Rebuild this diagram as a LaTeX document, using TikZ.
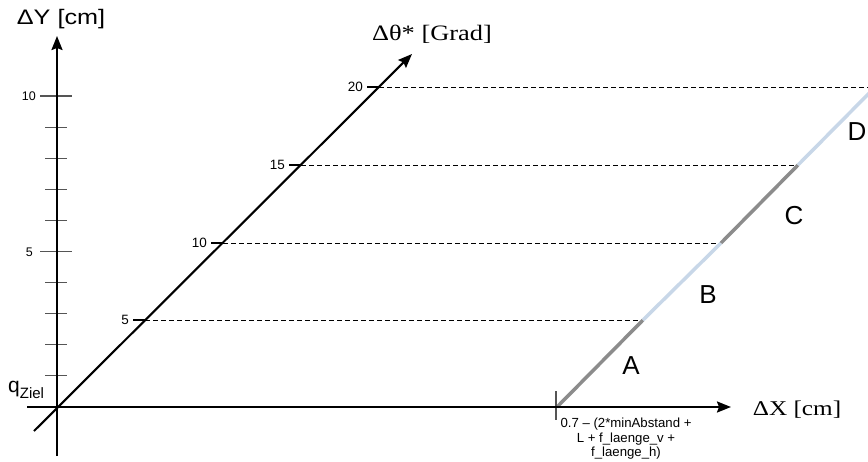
\documentclass[tikz,border=0pt]{standalone}
\usepackage{fontspec}
\setmainfont{Liberation Sans}
\newfontfamily\seriffont{Liberation Serif}
\usetikzlibrary{arrows.meta}
\definecolor{segdark}{HTML}{8C8C8C}
\definecolor{seglight}{HTML}{C8D7E8}
\definecolor{tickgray}{HTML}{555555}
\newcommand{\wide}[1]{\scalebox{1.2}[1]{#1}}
\begin{document}
\begin{tikzpicture}[x=1pt,y=-1pt,
  axis/.style={line width=2.1pt, -{Stealth[length=14pt,width=11pt,inset=2pt]}},
  ytick/.style={draw=tickgray, line width=1.1pt},
  dtick/.style={draw=black, line width=1.2pt},
  guide/.style={dash pattern=on 5pt off 3pt, line width=0.8pt},
  seg/.style={line width=3.5pt},
  ticklbl/.style={font=\fontsize{12.5}{12.5}\selectfont, inner sep=0pt},
  dticklbl/.style={font=\fontsize{13.5}{13.5}\selectfont, inner sep=0pt},
  seglbl/.style={font=\fontsize{26}{26}\selectfont, inner sep=0pt}]
\useasboundingbox (0,0) rectangle (868,461);
\clip (0,0) rectangle (868,461);

% key points
\coordinate (O) at (57,407);
\coordinate (ybot) at (57,456);
\coordinate (ytop) at (57,36);
\coordinate (xl) at (27,407);
\coordinate (xr) at (731,407);
\coordinate (dl) at (34,431);
\coordinate (dr) at (412,54);
\coordinate (d5) at (145,320);
\coordinate (d10) at (223,243);
\coordinate (d15) at (301,165);
\coordinate (d20) at (379,87);
\coordinate (p0) at (557,407);
\coordinate (p1) at (643,320);
\coordinate (p2) at (721,243);
\coordinate (p3) at (798,165);
\coordinate (p4) at (900,62);
\coordinate (e20) at (868,87);

% dashed guides
\draw[guide] (d5) -- (p1);
\draw[guide] (d10) -- (p2);
\draw[guide] (d15) -- (p3);
\draw[guide] (d20) -- (e20);

% segments A-D
\draw[seg, segdark] (p0) -- (p1);
\draw[seg, seglight] (p1) -- (p2);
\draw[seg, segdark] (p2) -- (p3);
\draw[seg, seglight] (p3) -- (p4);

% y ticks
\foreach \k in {1,2,3,4,6,7,8,9}{
  \draw[ytick] (45,{407-31.1*\k}) -- (67,{407-31.1*\k});
}
\draw[ytick] (40,251.5) -- (72,251.5);
\draw[ytick] (40,96) -- (72,96);
\node[ticklbl, anchor=east] (y5) at (33,252) {5};
\node[ticklbl, anchor=east] (y10) at (36,96) {10};

% x tick
\coordinate (xt1) at (556,391);
\coordinate (xt2) at (556,420);
\draw[ytick] (xt1) -- (xt2);

% axes
\draw[axis] (ybot) -- (ytop);
\draw[axis] (xl) -- (xr);
\draw[axis] (dl) -- (dr);

% diagonal ticks
\foreach \n in {5,10,15,20}{
  \draw[dtick] ([xshift=-12pt]d\n) -- (d\n);
  \node[dticklbl, anchor=east] (l\n) at ([xshift=-16pt]d\n) {\n};
}

% axis labels
\node[inner sep=0pt, font=\fontsize{21}{21}\selectfont] (ylab) at (61,19) {\wide{ΔY [cm]}};
\node[inner sep=0pt, font=\seriffont\fontsize{22}{22}\selectfont] (tlab) at (432,34) {\wide{Δθ* [Grad]}};
\node[inner sep=0pt, font=\seriffont\fontsize{21}{21}\selectfont] (xlab) at (797,410) {\wide{ΔX [cm]}};
\node[anchor=base west, inner sep=0pt, font=\fontsize{21}{21}\selectfont] (qz) at (8,392.5) {q\raisebox{-5.5pt}{\fontsize{15}{15}\selectfont Ziel}};

% bottom formula
\node[anchor=north, inner sep=0pt, align=center, font=\fontsize{13.2}{14.5}\selectfont] (form) at (626,418)
  {0.7 – (2*minAbstand +\\ L + f\_laenge\_v +\\ f\_laenge\_h)};

% segment labels
\node[seglbl] (A) at (631,366) {A};
\node[seglbl] (B) at (708,295) {B};
\node[seglbl] (C) at (794,216) {C};
\node[seglbl] (D) at (857,132) {D};
\end{tikzpicture}
\end{document}
